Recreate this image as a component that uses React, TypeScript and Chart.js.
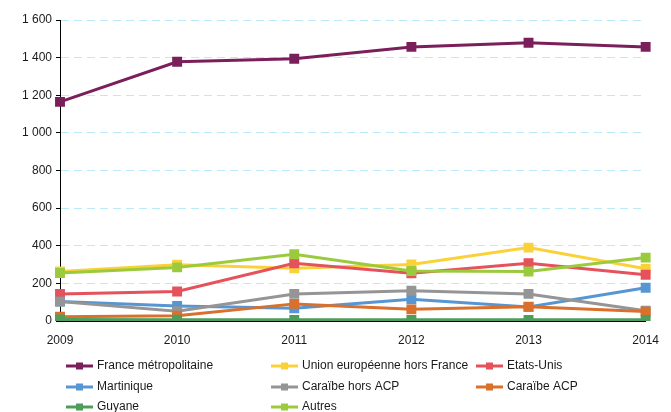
import React, { useEffect, useRef } from "react";
import { Chart, registerables } from "chart.js";

Chart.register(...registerables);

const years = ["2009", "2010", "2011", "2012", "2013", "2014"];
const seriesNames = [
  "France métropolitaine",
  "Union européenne hors France",
  "Etats-Unis",
  "Martinique",
  "Caraïbe hors ACP",
  "Caraïbe ACP",
  "Guyane",
  "Autres",
];
const franceMetro = [1165, 1378, 1394, 1457, 1479, 1457];
const unionEuropeenne = [263, 299, 280, 300, 390, 278];
const etatsUnis = [144, 157, 307, 254, 307, 246];
const martinique = [103, 80, 68, 115, 75, 177];
const caraibeHorsAcp = [103, 52, 144, 161, 144, 55];
const caraibeAcp = [23, 28, 91, 62, 76, 50];
const guyane = [8, 7, 6, 6, 6, 6];
const autres = [255, 285, 355, 266, 263, 337];
const yTicks = [0, 200, 400, 600, 800, 1000, 1200, 1400, 1600];
const colors = [
  "#7b1f5b",
  "#fbd139",
  "#e5525b",
  "#5696d2",
  "#959595",
  "#d9702c",
  "#4f9d5b",
  "#9bcb3d",
];
const seriesData = [franceMetro, unionEuropeenne, etatsUnis, martinique, caraibeHorsAcp, caraibeAcp, guyane, autres];

const FONT = "'Liberation Sans', Arial, sans-serif";

const legendPlugin = {
  id: "gridLegend",
  afterDraw(chart: any) {
    const ctx = chart.ctx;
    const colX = [66, 271, 476];
    const rowY = [366, 387, 407];
    ctx.save();
    seriesNames.forEach((name, i) => {
      const x0 = colX[i % 3];
      const y = rowY[Math.floor(i / 3)];
      ctx.strokeStyle = colors[i];
      ctx.lineWidth = 3;
      ctx.beginPath();
      ctx.moveTo(x0, y);
      ctx.lineTo(x0 + 27, y);
      ctx.stroke();
      ctx.fillStyle = colors[i];
      ctx.fillRect(x0 + 13.5 - 3.5, y - 3.5, 7, 7);
      ctx.fillStyle = "#1a1a1a";
      ctx.font = `12px ${FONT}`;
      ctx.textBaseline = "middle";
      ctx.textAlign = "left";
      ctx.fillText(name, x0 + 31, y);
    });
    ctx.restore();
  },
};

export default function App() {
  const ref = useRef<HTMLCanvasElement | null>(null);
  useEffect(() => {
    document.body.style.margin = "0";
    const chart = new Chart(ref.current as HTMLCanvasElement, {
      type: "line",
      data: {
        labels: years,
        datasets: seriesNames.map((name, i) => ({
          label: name,
          data: seriesData[i],
          order: -i,
          borderColor: colors[i],
          backgroundColor: colors[i],
          borderWidth: 3,
          pointStyle: "rect",
          pointRadius: 7,
          pointBorderWidth: 0,
          tension: 0,
        })),
      },
      options: {
        animation: false,
        responsive: false,
        layout: { padding: { left: 0, right: 14, top: 20, bottom: 0 } },
        plugins: {
          legend: { display: false },
          tooltip: { enabled: false },
        },
        scales: {
          x: {
            type: "category",
            offset: false,
            grid: { display: false, drawTicks: false },
            border: { display: true, color: "#000", width: 1 },
            ticks: {
              color: "#1a1a1a",
              font: { family: FONT, size: 12 },
              padding: 12,
              maxRotation: 0,
            },
            afterFit(scale: any) {
              scale.height = 91;
            },
          },
          y: {
            min: 0,
            max: 1600,
            afterBuildTicks(scale: any) {
              scale.ticks = yTicks.map((v) => ({ value: v }));
            },
            grid: {
              color: (c: any) => (c.tick && c.tick.value === 0 ? "rgba(0,0,0,0)" : "#b8ecfa"),
              lineWidth: 1,
              tickColor: "#000",
              tickLength: 4,
              drawTicks: true,
              tickBorderDash: [],
            },
            border: { display: true, color: "#000", width: 1, dash: [8, 5] },
            ticks: {
              color: "#1a1a1a",
              font: { family: FONT, size: 12 },
              padding: 4,
              callback: (v: any) => String(v).replace(/\B(?=(\d{3})+(?!\d))/g, " "),
            },
            afterFit(scale: any) {
              scale.width = 60;
            },
          },
        },
      },
      plugins: [legendPlugin],
    } as any);
    return () => chart.destroy();
  }, []);
  return (
    <div style={{ width: 671, height: 412 }}>
      <canvas ref={ref} width={671} height={412} style={{ display: "block" }} />
    </div>
  );
}
